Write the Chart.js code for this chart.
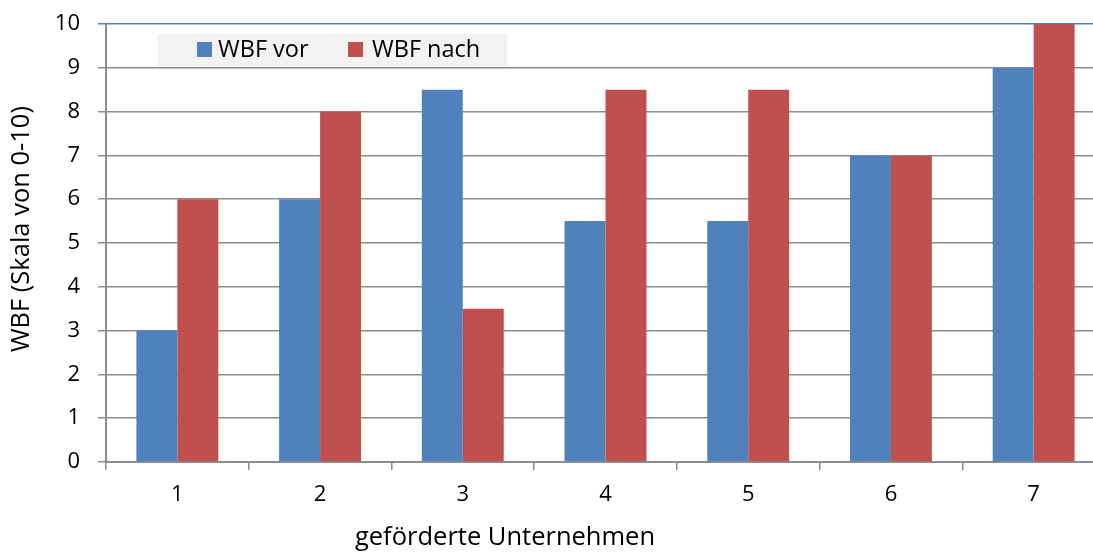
<!DOCTYPE html>
<html><head><meta charset="utf-8">
<script src="https://cdn.jsdelivr.net/npm/chart.js@4"></script>
<style>
html,body{margin:0;padding:0;overflow:hidden;background:#fff;}
#wrap{position:relative;width:1110px;height:555px;}
</style></head>
<body><div id="wrap"><canvas id="c" width="1110" height="555"></canvas></div>
<script>
const categories = ['1','2','3','4','5','6','7'];
const wbfVor = [3, 6, 8.5, 5.5, 5.5, 7, 9];
const wbfNach = [6, 8, 3.5, 8.5, 8.5, 7, 10];
const seriesNames = ['WBF vor', 'WBF nach'];
const yTitle = 'WBF (Skala von 0-10)';
const xTitle = 'geförderte Unternehmen';

const FONT = '"Open Sans"';
const FS = 22;

const overlay = {
  id: 'overlay',
  afterDraw(chart) {
    const ctx = chart.ctx;
    ctx.save();
    ctx.fillStyle = '#f2f2f2';
    ctx.fillRect(158, 34, 349, 32);
    ctx.font = '23.5px ' + FONT;
    ctx.textBaseline = 'middle';
    const items = [[197, 218], [348, 372]];
    chart.data.datasets.forEach((ds, i) => {
      ctx.fillStyle = ds.backgroundColor;
      ctx.fillRect(items[i][0], 42, 15, 15);
      ctx.fillStyle = '#000';
      ctx.textAlign = 'left';
      ctx.fillText(ds.label, items[i][1], 50);
    });
    ctx.fillStyle = '#000';
    ctx.textAlign = 'center';
    ctx.font = '25.5px ' + FONT;
    ctx.fillText(xTitle, 505, 538);
    ctx.translate(22, 229);
    ctx.rotate(-Math.PI / 2);
    ctx.fillText(yTitle, 0, 0);
    ctx.restore();
  }
};

new Chart(document.getElementById('c'), {
  type: 'bar',
  data: {
    labels: categories,
    datasets: [
      { label: seriesNames[0], data: wbfVor, backgroundColor: '#4f81bd', borderWidth: 0 },
      { label: seriesNames[1], data: wbfNach, backgroundColor: '#c0504d', borderWidth: 0 }
    ]
  },
  options: {
    responsive: false,
    animation: false,
    layout: { padding: { top: 24, right: 5, left: 0, bottom: 0 } },
    plugins: { legend: { display: false }, tooltip: { enabled: false } },
    datasets: { bar: { categoryPercentage: 0.574, barPercentage: 1.0 } },
    scales: {
      x: {
        grid: { offset: true, drawOnChartArea: false, tickLength: 8, color: '#8c8c8c', lineWidth: 1.5 },
        border: { color: '#8c8c8c', width: 2 },
        ticks: { color: '#000', font: { family: 'Open Sans', size: FS }, padding: 12, maxRotation: 0 },
        afterFit(s) { s.height = 93; }
      },
      y: {
        min: 0, max: 10,
        grid: {
          tickLength: 8,
          lineWidth: 1.5,
          color: (c) => (c.tick && c.tick.value === 10) ? '#4f81bd' : '#8c8c8c'
        },
        border: { color: '#8c8c8c', width: 2 },
        ticks: { stepSize: 1, color: '#000', font: { family: 'Open Sans', size: FS }, padding: 18 },
        afterFit(s) { s.width = 106; s.paddingTop = 0; s.paddingBottom = 0; }
      }
    }
  },
  plugins: [overlay]
});
</script>
</body></html>
